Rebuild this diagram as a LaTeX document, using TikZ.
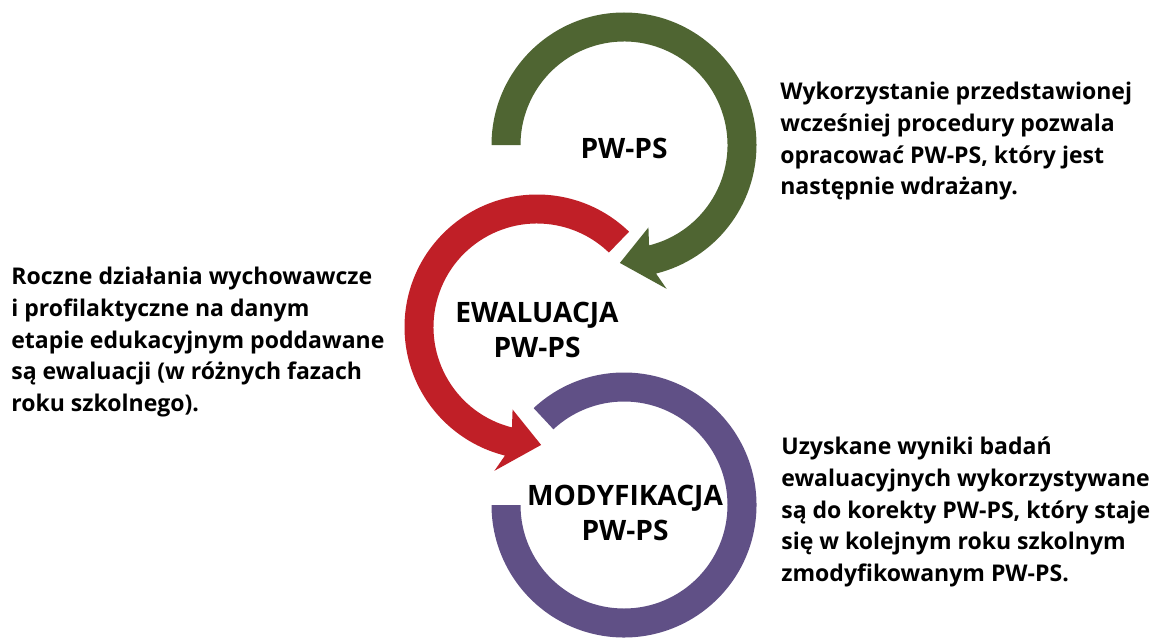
\documentclass[tikz,border=0pt]{standalone}
\usepackage{fontspec}
\setmainfont{Open Sans}
\usetikzlibrary{calc}
\definecolor{ringgreen}{RGB}{79,101,50}
\definecolor{ringred}{RGB}{192,31,39}
\definecolor{ringpurple}{RGB}{96,80,134}
\begin{document}
\begin{tikzpicture}[x=0.02cm,y=0.02cm,
  bodytext/.style={anchor=north west,inner sep=0pt,align=left,font=\bfseries\fontsize{13.1}{18}\selectfont},
  ringlabel/.style={inner sep=0pt,align=center,font=\bfseries\fontsize{16}{19.8}\selectfont}]
\useasboundingbox (0,0) rectangle (1159,637);
\coordinate (cg) at (624,492);
\coordinate (cr) at (537,310);
\coordinate (cp) at (624,132);
% green ring: from 180 clockwise to -76, arrow tip at -92
\fill[ringgreen] ($(cg)+(180:132.5)$) arc[start angle=180,end angle=-76,radius=132.5]
  -- ($(cg)+(-73.5:150)$) -- ($(cg)+(-92:118)$) -- ($(cg)+(-73.5:86)$)
  -- ($(cg)+(-76:103.5)$) arc[start angle=-76,end angle=180,radius=103.5] -- cycle;
% red ring: from 46 counterclockwise to 256, arrow tip at 272
\fill[ringred] ($(cr)+(46:132.5)$) arc[start angle=46,end angle=256,radius=132.5]
  -- ($(cr)+(253.5:150)$) -- ($(cr)+(272:118)$) -- ($(cr)+(253.5:86)$)
  -- ($(cr)+(256:103.5)$) arc[start angle=256,end angle=46,radius=103.5] -- cycle;
% purple ring: from 133 clockwise to -180
\fill[ringpurple] ($(cp)+(133:132.5)$) arc[start angle=133,end angle=-180,radius=132.5]
  -- ($(cp)+(180:103.5)$) arc[start angle=-180,end angle=133,radius=103.5] -- cycle;
\node[ringlabel] (lg) at (624,489) {PW-PS};
\node[ringlabel] (lr) at (537,307) {EWALUACJA\\PW-PS};
\node[ringlabel] (lp) at (625,124) {MODYFIKACJA\\PW-PS};
\node[bodytext] (t1) at (780,555) {Wykorzystanie przedstawionej\\wcześniej procedury pozwala\\opracować PW-PS, który jest\\następnie wdrażany.};
\node[bodytext] (t2) at (11,370) {Roczne działania wychowawcze\\i profilaktyczne na danym\\etapie edukacyjnym poddawane\\są ewaluacji (w różnych fazach\\roku szkolnego).};
\node[bodytext] (t3) at (781,200) {Uzyskane wyniki badań\\ewaluacyjnych wykorzystywane\\są do korekty PW-PS, który staje\\się w kolejnym roku szkolnym\\zmodyfikowanym PW-PS.};
\end{tikzpicture}
\end{document}
